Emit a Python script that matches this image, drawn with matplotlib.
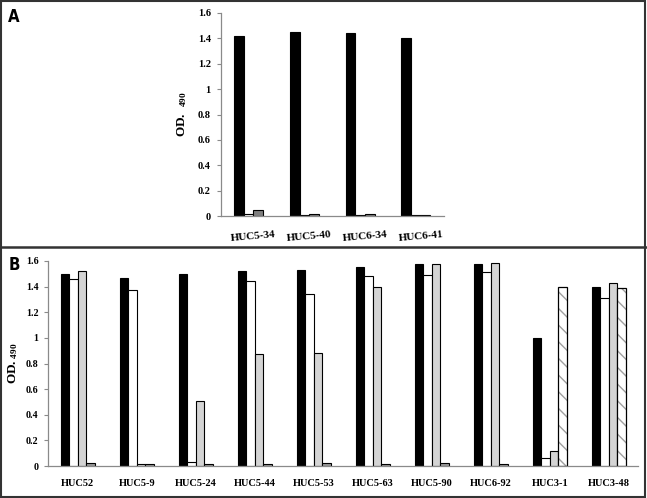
import matplotlib

matplotlib.use("Agg")
import matplotlib.pyplot as plt
import numpy as np
from matplotlib.patches import Rectangle
from matplotlib.lines import Line2D

# Panel A data
a_labels = ["HUC5-34", "HUC5-40", "HUC6-34", "HUC6-41"]
a_black = [1.42, 1.45, 1.44, 1.40]
a_white = [0.02, 0.005, 0.005, 0.005]
a_gray = [0.045, 0.015, 0.02, 0.008]

# Panel B data
b_labels = ["HUC52", "HUC5-9", "HUC5-24", "HUC5-44", "HUC5-53",
            "HUC5-63", "HUC5-90", "HUC6-92", "HUC3-1", "HUC3-48"]
b_black = [1.50, 1.47, 1.50, 1.52, 1.53, 1.55, 1.58, 1.575, 1.00, 1.40]
b_white = [1.46, 1.375, 0.035, 1.445, 1.345, 1.48, 1.49, 1.51, 0.06, 1.31]
b_lgray = [1.52, 0.015, 0.51, 0.875, 0.88, 1.40, 1.58, 1.585, 0.115, 1.43]
b_fourth = [0.025, 0.015, 0.02, 0.02, 0.025, 0.02, 0.025, 0.02, 1.40, 1.39]
b_fourth_hatched = [False] * 8 + [True, True]

SERIF = ["Liberation Serif", "DejaVu Serif"]
plt.rcParams["font.family"] = SERIF
plt.rcParams["mathtext.fontset"] = "custom"
plt.rcParams["mathtext.rm"] = "Liberation Serif:bold"
plt.rcParams["mathtext.bf"] = "Liberation Serif:bold"
plt.rcParams["hatch.linewidth"] = 1.0

fig = plt.figure(figsize=(6.47, 4.98), dpi=100)


def style_axis(ax, size):
    for side in ("top", "right"):
        ax.spines[side].set_visible(False)
    for side in ("left", "bottom"):
        ax.spines[side].set_color("#8a8a8a")
        ax.spines[side].set_linewidth(0.9)
    ax.set_ylim(0, 1.6)
    ax.set_yticks(np.arange(0, 1.61, 0.2))
    ax.set_yticklabels(["0", "0.2", "0.4", "0.6", "0.8", "1", "1.2", "1.4", "1.6"])
    ax.tick_params(axis="y", length=3, width=0.8, color="#8a8a8a",
                   labelsize=size, pad=4)
    ax.tick_params(axis="x", length=0)
    for t in ax.get_yticklabels() + ax.get_xticklabels():
        t.set_fontweight("bold")


# ---- panel A ----
ax_a = fig.add_axes([0.341, 0.566, 0.345, 0.408])
n = len(a_labels)
x = np.arange(n)
w = 0.173
ax_a.bar(x - w, a_black, w, color="black", edgecolor="black", linewidth=0.8)
ax_a.bar(x, a_white, w, color="white", edgecolor="black", linewidth=0.8)
ax_a.bar(x + w, a_gray, w, color="#7f7f7f", edgecolor="black", linewidth=0.8)
ax_a.set_xlim(-0.5, n - 0.5)
ax_a.set_xticks(x + 0.5)
ax_a.set_xticklabels(a_labels, rotation=5, ha="right", fontsize=8)
ax_a.tick_params(axis="x", pad=10)
style_axis(ax_a, 7.5)
ax_a.set_ylabel(r"$\mathbf{OD.\ _{490}}$", fontsize=9.5, labelpad=6)

# ---- panel B ----
ax_b = fig.add_axes([0.0745, 0.064, 0.912, 0.412])
n = len(b_labels)
x = np.arange(n)
w = 0.144
ax_b.bar(x - 1.5 * w, b_black, w, color="black", edgecolor="black", linewidth=0.8)
ax_b.bar(x - 0.5 * w, b_white, w, color="white", edgecolor="black", linewidth=0.8)
ax_b.bar(x + 0.5 * w, b_lgray, w, color="#d4d4d4", edgecolor="black", linewidth=0.8)
for xi, v, hatched in zip(x, b_fourth, b_fourth_hatched):
    if hatched:
        ax_b.bar(xi + 1.5 * w, v, w, color="white", hatch="\\\\",
                 edgecolor="#a0a0a0", linewidth=0)
        ax_b.bar(xi + 1.5 * w, v, w, fill=False, edgecolor="black", linewidth=0.9)
    else:
        ax_b.bar(xi + 1.5 * w, v, w, color="#9a9a9a", edgecolor="black", linewidth=0.8)
ax_b.set_xlim(-0.5, n - 0.5)
ax_b.set_xticks(x)
ax_b.set_xticklabels(b_labels, fontsize=7.5)
ax_b.tick_params(axis="x", pad=9)
style_axis(ax_b, 7.2)
ax_b.set_ylabel(r"$\mathbf{OD._{490}}$", fontsize=9.5, labelpad=4)

# panel letters and frames
narrow = ["Liberation Sans Narrow", "DejaVu Sans"]
fig.text(0.013, 0.966, "A", fontsize=12, fontweight="bold", family=narrow,
         fontstretch="condensed", ha="left", va="center")
fig.text(0.013, 0.468, "B", fontsize=12, fontweight="bold", family=narrow,
         fontstretch="condensed", ha="left", va="center")
fig.add_artist(Rectangle((0.002, 0.002), 0.995, 0.995, transform=fig.transFigure,
                         fill=False, edgecolor="#333333", linewidth=1.5))
fig.add_artist(Line2D([0, 1], [0.505, 0.505], transform=fig.transFigure,
                      color="#333333", linewidth=1.8))

fig.savefig("out.png", dpi=100)
